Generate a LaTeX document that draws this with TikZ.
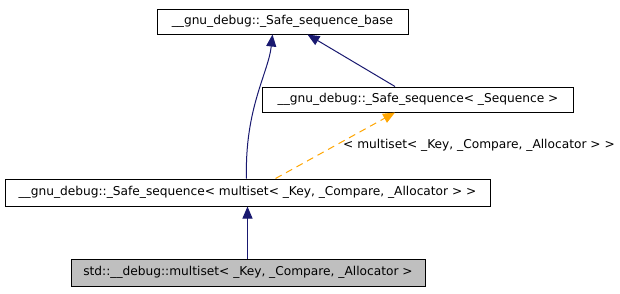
\documentclass[tikz,border=0pt]{standalone}
\usepackage{fontspec}
\setmainfont{DejaVu Sans}
\usetikzlibrary{arrows.meta}
\definecolor{edgeblue}{HTML}{191970}
\definecolor{inhorange}{HTML}{FFA500}
\definecolor{grayfill}{HTML}{BFBFBF}
\tikzset{
  cls/.style={draw=black, line width=1pt, fill=white, inner sep=0pt, minimum height=25pt,
    font=\fontsize{12.2}{15}\selectfont, text=black},
  edge/.style={draw=edgeblue, line width=1pt, -{Triangle[length=12pt,width=10pt]}},
  tmpl/.style={draw=inhorange, line width=1pt, dash pattern=on 7pt off 5pt, -{Triangle[length=12pt,width=10pt]}, fill=none},
  lbl/.style={inner sep=0pt, font=\fontsize{12.2}{15}\selectfont, anchor=west}
}
\begin{document}
\begin{tikzpicture}[x=1pt,y=-1pt]
\useasboundingbox (0,0) rectangle (620,293);
\node[cls, minimum width=251pt] (base) at (282.5,21.5) {\_\_gnu\_debug::\_Safe\_sequence\_base};
\node[cls, minimum width=311pt] (seq) at (418,99.5) {\_\_gnu\_debug::\_Safe\_sequence< \_Sequence >};
\node[cls, minimum width=485pt, minimum height=27pt] (mid) at (247.5,192.5) {\_\_gnu\_debug::\_Safe\_sequence< multiset< \_Key, \_Compare, \_Allocator > >};
\node[cls, minimum width=354pt, minimum height=27pt, fill=grayfill] (bot) at (248,272.5) {std::\_\_debug::multiset< \_Key, \_Compare, \_Allocator >};
\node[lbl] (tl) at (343,145) {< multiset< \_Key, \_Compare, \_Allocator > >};
\draw[edge] ([xshift=-1pt]mid.north) .. controls ([xshift=-3pt,yshift=70pt]mid.north) and ([xshift=-14pt,yshift=-38pt]base.south) .. ([xshift=-10pt]base.south);
\draw[edge] ([xshift=-23pt]seq.north) -- ([xshift=25pt]base.south);
\draw[tmpl] ([xshift=28pt]mid.north) -- ([xshift=-23pt]seq.south);
\draw[edge] (bot.north -| mid.south) -- (mid.south);
\end{tikzpicture}
\end{document}
